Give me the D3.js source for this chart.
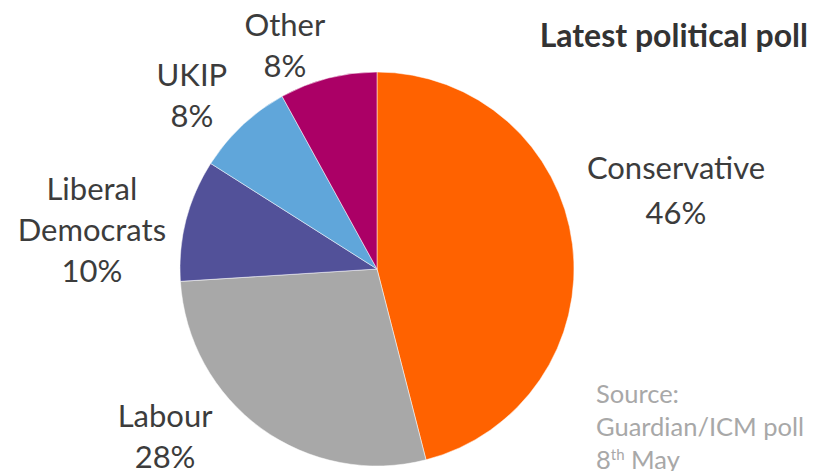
<!DOCTYPE html>
<html lang="en">
  <head>
    <meta charset="utf-8">
    <script src="https://d3js.org/d3.v7.min.js" charset="utf-8"></script>
    <style>
      body { margin: 0; background: #fff; }
      text { font-family: Lato, "Open Sans", sans-serif; }
    </style>
  </head>
  <body>
    <script type="text/javascript">
      // Data
      var parties = ["Conservative", "Labour", "Liberal Democrats", "UKIP", "Other"];
      var shares = [46, 28, 10, 8, 8];
      var labelLines = [["Conservative"], ["Labour"], ["Liberal", "Democrats"], ["UKIP"], ["Other"]];

      // Visuals
      var svgWidth = 814;
      var svgHeight = 471;
      var cx = 377, cy = 269, radius = 197;
      var colors = ["#ff6200", "#a8a8a8", "#525199", "#60a6da", "#ab0066"];
      // hand placement of labels, like the original chart
      var nudges = [[51, -46], [-65, -34], [-43, 24], [-14, 10], [-30, 20]];
      var lineHeight = 41;

      var svg = d3.select("body")
      .append("svg")
      .attr("width", svgWidth)
      .attr("height", svgHeight);

      var pie = d3.pie().sort(null).value(function(d) { return d; });
      var arcs = pie(shares);

      var arc = d3.arc().innerRadius(0).outerRadius(radius);
      var labelArc = d3.arc().innerRadius(250).outerRadius(250);

      var g = svg.append("g").attr("transform", "translate(" + cx + "," + cy + ")");

      g.selectAll("path")
      .data(arcs)
      .enter().append("path")
      .attr("d", arc)
      .attr("fill", function(d, i) { return colors[i]; })
      .attr("stroke", "#fff")
      .attr("stroke-width", 0.5);

      var labels = g.selectAll("text.label")
      .data(arcs)
      .enter().append("text")
      .attr("class", "label")
      .attr("text-anchor", "middle")
      .attr("font-size", 31)
      .attr("fill", "#3c3c3c")
      .each(function(d, i) {
	  var c = labelArc.centroid(d);
	  var x = c[0] + nudges[i][0];
	  var y = c[1] + nudges[i][1];
	  var lines = labelLines[i].concat([shares[i] + "%"]);
	  var lh = i === 0 ? 45 : lineHeight;
	  var top = y - (lines.length - 1) * lh / 2 + 10;
	  var t = d3.select(this);
	  lines.forEach(function(s, k) {
	      t.append("tspan").attr("x", x).attr("y", top + k * lh).text(s);
	  });
      });

      svg.append("text")
      .attr("x", 808)
      .attr("y", 47)
      .attr("text-anchor", "end")
      .attr("font-size", 32)
      .attr("font-weight", "bold")
      .attr("fill", "#333")
      .text("Latest political poll");

      var source = svg.append("text")
      .attr("font-size", 25.5)
      .attr("fill", "#a8a8a8");
      source.append("tspan").attr("x", 596).attr("y", 403).text("Source:");
      source.append("tspan").attr("x", 596).attr("y", 436).text("Guardian/ICM poll");
      var last = source.append("tspan").attr("x", 596).attr("y", 469).text("8");
      last.append("tspan").attr("font-size", 15).attr("dy", -9).text("th");
      last.append("tspan").attr("dy", 9).text(" May");
    </script>
  </body>
</html>
